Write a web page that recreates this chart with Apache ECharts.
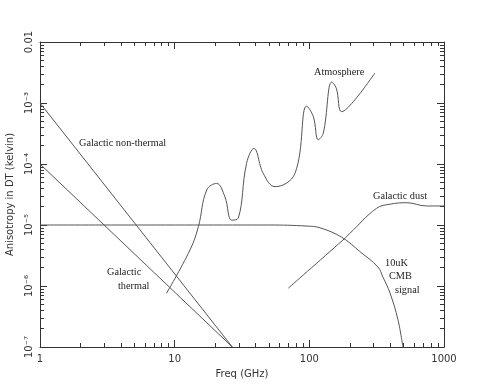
<!DOCTYPE html>
<html>
<head>
<meta charset="utf-8">
<script src="https://cdn.jsdelivr.net/npm/echarts@6/dist/echarts.min.js"></script>
<style>
  html, body { margin: 0; padding: 0; background: #fff; }
  #chart { width: 485px; height: 389px; }
</style>
</head>
<body>
<div id="chart"></div>
<script>
// frequency in GHz, anisotropy in kelvin
const nonThermal = [[1, 1e-3], [26.8, 1e-7]]
const thermal = [[1, 1e-4], [26.8, 1e-7]]

const atmosphere = [
  [8.7, 7.6e-7], [13.0, 3.9e-6], [15.0, 9.4e-6], [17.3, 3.75e-5], [20.5, 4.8e-5],
  [23.6, 2.9e-5], [26.5, 1.2e-5], [29.7, 1.3e-5], [34.2, 1.03e-4], [38.8, 1.8e-4],
  [45.5, 7.0e-5], [55.6, 4.25e-5], [78.2, 7.0e-5], [95.5, 8.9e-4], [107, 6.0e-4],
  [116.5, 2.5e-4], [127, 3.2e-4], [146.6, 2.2e-3], [158.5, 1.75e-3], [174, 7.2e-4],
  [212, 1.05e-3], [307, 3.1e-3]
]

const cmb = [
  [1, 1e-5], [50, 1e-5], [96, 9.6e-6], [120, 9.0e-6], [174, 6.3e-6], [238, 3.65e-6],
  [323, 2.05e-6], [352, 1.4e-6], [397, 7.7e-7], [455, 2.8e-7], [495, 1e-7]
]

const dust = [
  [69.7, 9.2e-7], [178, 5.7e-6], [200, 7.3e-6], [316, 1.88e-5], [400, 2.2e-5],
  [528, 2.32e-5], [743, 2.05e-5], [1000, 2.05e-5]
]

const xMajor = [1, 10, 100, 1000]
const xMinor = [2, 3, 4, 5, 6, 7, 8, 9, 20, 30, 40, 50, 60, 70, 80, 90, 200, 300, 400, 500, 600, 700, 800, 900]
const yMajor = [1e-7, 1e-6, 1e-5, 1e-4, 1e-3, 1e-2]
const yMinor = []
yMajor.slice(0, 5).forEach(d => { for (let k = 2; k <= 9; k++) yMinor.push(+(k * d).toPrecision(2)) })

const lineColor = '#555'
const axisColor = '#333'
const sup = { '-': '⁻', '0': '⁰', '1': '¹', '2': '²', '3': '³', '4': '⁴', '5': '⁵', '6': '⁶', '7': '⁷', '8': '⁸', '9': '⁹' }

function xAx(position, ticks, len, main) {
  return {
    type: 'log', min: 1, max: 1000, position: position,
    axisLine: { show: main, lineStyle: { color: axisColor, width: 1 } },
    axisTick: { show: true, inside: true, length: len, customValues: ticks, lineStyle: { color: axisColor } },
    axisLabel: position === 'bottom' && main ? {
      show: true, customValues: xMajor, color: '#333', fontFamily: 'DejaVu Sans', fontSize: 10, margin: 7,
      formatter: v => String(Math.round(v))
    } : { show: false },
    splitLine: { show: false },
    name: position === 'bottom' && main ? 'Freq (GHz)' : '',
    nameLocation: 'middle', nameGap: 22,
    nameTextStyle: { color: '#333', fontFamily: 'DejaVu Sans', fontSize: 10 }
  }
}

function yAx(position, ticks, len, main) {
  return {
    type: 'log', min: 1e-7, max: 1e-2, position: position,
    axisLine: { show: main, lineStyle: { color: axisColor, width: 1 } },
    axisTick: { show: true, inside: true, length: len, customValues: ticks, lineStyle: { color: axisColor } },
    axisLabel: position === 'left' && main ? {
      show: true, customValues: yMajor, rotate: 90, color: '#333', fontFamily: 'DejaVu Sans', fontSize: 10, margin: 6,
      formatter: v => {
        const e = Math.round(Math.log10(v))
        if (e === -2) return '0.01'
        return '10' + String(e).split('').map(c => sup[c]).join('')
      }
    } : { show: false },
    splitLine: { show: false },
    name: position === 'left' && main ? 'Anisotropy in DT (kelvin)' : '',
    nameLocation: 'middle', nameGap: 25,
    nameTextStyle: { color: '#333', fontFamily: 'DejaVu Sans', fontSize: 10 }
  }
}

function line(name, data, smooth) {
  return {
    name: name, type: 'line', data: data, xAxisIndex: 0, yAxisIndex: 0,
    showSymbol: false, smooth: smooth, silent: true,
    lineStyle: { color: lineColor, width: 1 }
  }
}

const serif = { fontFamily: 'Liberation Serif', fontSize: 10.3, fill: '#222' }
function note(text, x, y) {
  return { type: 'text', left: x, top: y, style: Object.assign({ text: text }, serif) }
}

const chart = echarts.init(document.getElementById('chart'))
chart.setOption({
  animation: false,
  backgroundColor: '#fff',
  grid: { left: 40, right: 41, top: 42, bottom: 42, containLabel: false, outerBoundsMode: 'none' },
  xAxis: [
    xAx('bottom', xMajor, 7, true), xAx('bottom', xMinor, 4, false),
    xAx('top', xMajor, 7, true), xAx('top', xMinor, 4, false)
  ],
  yAxis: [
    yAx('left', yMajor, 7, true), yAx('left', yMinor, 4, false),
    yAx('right', yMajor, 7, true), yAx('right', yMinor, 4, false)
  ],
  series: [
    line('Galactic non-thermal', nonThermal, false),
    line('Galactic thermal', thermal, false),
    line('Atmosphere', atmosphere, 0.4),
    line('10uK CMB signal', cmb, 0.4),
    line('Galactic dust', dust, 0.4)
  ],
  graphic: [
    note('Galactic non-thermal', 79, 138),
    note('Galactic', 107, 267),
    note('thermal', 118, 281),
    note('Atmosphere', 314, 67),
    note('Galactic dust', 373, 191),
    note('10uK', 385, 258),
    note('CMB', 389, 271),
    note('signal', 395, 285)
  ]
})
</script>
</body>
</html>
